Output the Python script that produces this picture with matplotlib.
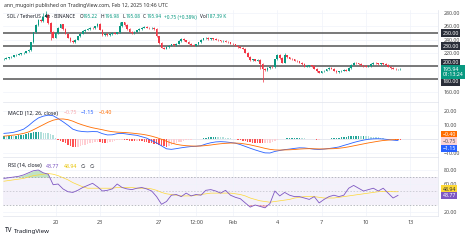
import numpy as np
import pandas as pd
import matplotlib
matplotlib.use("Agg")
import matplotlib.pyplot as plt
import matplotlib.dates as mdates
from matplotlib.text import Annotation

plt.rcParams['font.family'] = ['Noto Sans', 'DejaVu Sans']

# ---- data (SOL/USDT, 4h candles) ----
closes = [
    211, 212, 213, 214, 216, 217, 218, 219, 220, 222, 224, 236, 251,
    262, 270, 268, 275, 278, 265, 252, 243, 250, 258, 263,
    256, 249, 243, 238, 236, 240, 245, 249,
    253, 255, 256, 258, 257, 260, 264, 255, 247,
    249, 247, 248, 250, 249, 251, 260, 266, 262, 256, 252, 250,
    252, 254, 256, 258, 259, 258, 257, 258, 256, 245, 235, 228,
    226, 229, 231, 233, 232, 234, 238, 241, 239, 237,
    234, 232, 231, 233, 236, 240, 242, 243, 241, 242, 241, 240,
    239, 238, 238, 237, 236, 234, 233, 231, 229, 228, 226,
    220, 214, 209, 210, 208, 209, 203, 196, 194, 197, 199, 198,
    210, 217, 212, 205, 216, 213, 211, 210, 208, 207, 205, 203,
    199, 200, 201, 200, 196, 192, 190, 192, 193, 195, 197,
    196, 193, 191, 192, 193, 194, 193, 197, 202, 205, 204, 203,
    201, 200, 199, 200, 203, 205, 204, 203, 204, 203, 202,
    199, 197, 196, 195, 195.2, 195.94,
]
first_open = 210.5
# candles with long wicks: index -> (high, low)
long_wicks = {16: (280, None), 17: (284, None), 19: (None, 240), 47: (267, None),
              105: (None, 176), 104: (None, 195), 114: (219, None)}
bar_start = "2025-01-16 12:00"

# MACD histogram, one bar per candle
macd_hist = [
    2.0, 1.8, 1.9, 2.1, 2.0, 2.2, 2.5, 2.7, 3.0, 3.5,
    4.0, 4.5, 4.8, 5.0, 5.0, 4.9, 4.6, 4.3, 4.0, 3.3,
    2.5, 1.0, -0.5, -1.4, -2.2, -3.2, -4.2, -5.0, -5.6, -5.7,
    -5.4, -5.0, -4.6, -4.2, -3.8, -3.2, -2.7, -2.3, -2.0, -2.4,
    -2.6, -2.8, -2.7, -2.4, -2.0, -1.5, -1.0, -0.7, -0.6, -0.8,
    -0.9, -1.1, -1.2, -1.3, -1.2, -1.4, -1.6, -1.9, -2.2, -2.6,
    -3.0, -3.4, -3.8, -4.3, -4.7, -5.1, -5.4, -5.1, -4.6, -3.9,
    -3.1, -2.5, -1.9, -1.4, -1.0, -0.7, -0.4, -0.2, -0.1, 0.1,
    0.3, 0.7, 1.0, 1.3, 1.5, 1.6, 1.6, 1.5, 1.4, 1.2,
    0.9, 0.6, 0.4, 0.1, -0.2, -0.5, -0.9, -1.3, -1.7, -2.1,
    -2.4, -2.6, -2.8, -3.0, -3.1, -3.2, -3.2, -3.0, -2.6, -1.8,
    -1.1, -0.6, -0.3, 0.0, 0.2, 0.4, 0.5, 0.7, 0.8, 0.9,
    0.9, 0.8, 0.6, 0.3, 0.1, -0.1, -0.3, -0.4, -0.4, -0.3,
    -0.2, 0.0, 0.2, 0.4, 0.6, 0.8, 0.9, 1.1, 1.4, 1.6,
    1.8, 1.9, 2.0, 2.1, 2.1, 2.0, 2.0, 1.9, 1.8, 1.6,
    1.5, 1.3, 1.1, 0.8, 0.6, 0.3, 0.1, -0.1, -0.3, -0.5,
    -0.6, -0.75,
]

# MACD / signal / RSI lines, one point per 8h
macd_line = [
    4.0, 4.3, 4.8, 5.8, 7.0, 9.5, 12.5, 15.0, 16.3, 17.0, 16.6, 14.6, 12.3, 9.8,
    7.0, 5.8, 5.3, 5.1, 5.3, 5.2, 3.8, 2.9, 3.0, 3.8, 4.0, 3.5, 3.0, 2.6, 1.6,
    0.6, -1.2, -2.8, -4.9, -7.0, -7.4, -6.9, -6.3, -5.8, -5.4, -5.2, -4.8, -3.6,
    -2.7, -2.1, -1.9, -2.1, -2.5, -3.0, -4.0, -5.3, -6.6, -7.8, -8.9, -9.9,
    -10.0, -8.9, -8.2, -7.6, -7.2, -6.7, -6.3, -6.4, -6.8, -7.3, -7.5, -7.2,
    -6.8, -6.3, -5.7, -4.6, -3.6, -2.5, -1.6, -0.8, -0.2, 0.1, 0.2, 0.0, -0.4,
    -0.8, -1.15,
]
signal_line = [
    2.0, 2.4, 2.8, 3.3, 4.0, 5.0, 6.6, 8.4, 10.2, 12.0, 13.4, 14.2, 14.3, 13.8,
    12.7, 11.2, 10.0, 8.9, 8.0, 7.3, 6.6, 5.8, 5.2, 4.9, 4.7, 4.5, 4.2, 3.8, 3.4,
    2.8, 2.0, 1.0, -0.2, -1.6, -2.9, -3.8, -4.4, -4.8, -5.0, -5.1, -5.0, -4.7,
    -4.3, -3.8, -3.4, -3.1, -2.9, -2.9, -3.1, -3.6, -4.2, -5.0, -5.8, -6.7,
    -7.4, -7.8, -7.9, -7.8, -7.7, -7.5, -7.2, -7.0, -6.9, -7.0, -7.1, -7.1,
    -7.0, -6.9, -6.6, -6.2, -5.6, -4.9, -4.2, -3.5, -2.8, -2.2, -1.6, -1.1,
    -0.8, -0.5, -0.4,
]
rsi = [
    68, 69, 70, 71, 73, 76, 79, 80, 76, 74, 59, 60, 53, 49, 48, 51, 55, 58, 61,
    56, 50, 51, 53, 60, 55, 53, 52, 54, 55, 53, 50, 42, 31, 35, 44, 45, 42, 47,
    43, 45, 44, 51, 52, 50, 47, 51, 44, 41, 39, 33, 27, 30, 28, 26, 32, 50, 43,
    48, 44, 42, 42, 40, 38, 42, 33, 38, 42, 44, 42, 44, 54, 58, 54, 50, 52, 54,
    50, 54, 47, 40, 43.77,
]
rsi_ma = [
    64, 65, 66, 67, 68, 70, 72, 73, 74, 75, 74, 72, 69, 66, 62, 59, 56, 54, 54,
    54, 54, 54, 54, 55, 55, 55, 55, 54, 54, 54, 53, 51, 48, 46, 45, 44, 43, 43,
    43, 44, 45, 46, 47, 47, 47, 47, 47, 46, 45, 43, 40, 38, 36, 35, 34, 35, 36,
    37, 38, 40, 41, 42, 42, 42, 41, 40, 40, 40, 41, 42, 43, 44, 45, 46, 47, 48,
    49, 49.5, 49.5, 49, 48.94,
]
ind_start = "2025-01-16 12:00"

support_levels = [250, 230, 200, 180]
price_ticks = [280, 260, 240, 220, 200, 180, 160]
price_tick_labels = ["280.00", "260.00", "240.00", "220.00", "", "", "160.00"]
macd_ticks = [20, 10, 0, -10]
macd_tick_labels = ["20.00", "10.00", "", "\u221210.00"]
rsi_ticks = [80, 60, 40, 20]
rsi_tick_labels = ["80.00", "60.00", "", "20.00"]
date_ticks = ["2025-01-20 00:00", "2025-01-23 00:00", "2025-01-27 00:00", "2025-01-29 12:00",
              "2025-02-01 00:00", "2025-02-04 00:00", "2025-02-07 00:00", "2025-02-10 00:00",
              "2025-02-13 00:00"]
date_labels = ["20", "23", "27", "12:00", "Feb", "4", "7", "10", "13"]

UP, DOWN = "#089981", "#f23645"
TXT = "#131722"
AX_TXT = "#4a4a4a"
GRID = "#f0f3fa"

t_bar = mdates.date2num(pd.date_range(bar_start, periods=len(closes), freq="4h"))
t_ind = mdates.date2num(pd.date_range(ind_start, periods=len(rsi), freq="8h"))

W, H = 474, 240
fig = plt.figure(figsize=(W / 100, H / 100), dpi=100)
fig.patch.set_facecolor("white")


def px_axes(x0, y0, x1, y1):
    return fig.add_axes([x0 / W, 1 - y1 / H, (x1 - x0) / W, (y1 - y0) / H])


ax_p = px_axes(3, 10, 438, 102)
ax_m = px_axes(3, 102, 438, 157)
ax_r = px_axes(3, 157, 438, 216)

xlim = (t_bar[0] - 0.06, mdates.date2num(pd.Timestamp("2025-02-14 21:00")))
tick_nums = mdates.date2num(pd.to_datetime(date_ticks, format="%Y-%m-%d %H:%M"))

for ax in (ax_p, ax_m, ax_r):
    ax.set_xlim(*xlim)
    ax.set_facecolor("white")
    ax.set_xticks(tick_nums)
    ax.grid(True, color=GRID, linewidth=0.5)
    ax.set_axisbelow(True)
    ax.yaxis.tick_right()
    ax.tick_params(axis="y", length=0, labelsize=3.8, labelcolor=AX_TXT, pad=4)
    ax.tick_params(axis="x", length=0, labelbottom=False)
    for s in ("left", "bottom"):
        ax.spines[s].set_visible(False)
    for s in ("top", "right"):
        ax.spines[s].set_color("#e0e3eb")
        ax.spines[s].set_linewidth(0.5)
ax_p.spines["top"].set_visible(False)

# ---- candles ----
c = np.array(closes, dtype=float)
o = np.r_[first_open, c[:-1]]
hi = np.maximum(o, c) + 1.0
lo = np.minimum(o, c) - 1.0
for k, (h, l) in long_wicks.items():
    if h is not None:
        hi[k] = h
    if l is not None:
        lo[k] = l
col = np.where(c >= o, UP, DOWN)
bw = 0.7 / 6
ax_p.vlines(t_bar, lo, hi, colors=col, linewidth=0.5, zorder=3)
ax_p.bar(t_bar, np.maximum(np.abs(c - o), 0.6), bottom=np.minimum(o, c), width=bw,
         color=col, linewidth=0, zorder=4)
for lvl in support_levels:
    ax_p.axhline(lvl, color="#555555", linewidth=1.1, zorder=2)
ax_p.set_ylim(145.45, 284.85)
ax_p.set_yticks(price_ticks, labels=price_tick_labels)


def tag(ax, value, text, fc, tc="white", dy=0.0):
    ax.annotate(text, xy=(1, value), xycoords=("axes fraction", "data"),
                xytext=(3.3, dy), textcoords="offset points", ha="left", va="center",
                fontsize=3.8, color=tc, annotation_clip=False, zorder=10,
                bbox=dict(boxstyle="square,pad=0.25", fc=fc, ec="none"))


tag(ax_p, 250, "250.00", "#2a2e39")
tag(ax_p, 230, "230.00", "#2a2e39")
tag(ax_p, 200, "200.00", "#2a2e39", dy=2.4)
tag(ax_p, 180, "180.00", "#2a2e39", dy=-2.0)
tag(ax_p, closes[-1], "%.2f\n01:13:24" % closes[-1], UP, dy=-2.4)

# ---- MACD ----
h = np.array(macd_hist)
prev = np.r_[h[0], h[:-1]]
hcol = np.where(h >= 0, np.where(h >= prev, "#26a69a", "#b2dfdb"),
                np.where(h < prev, "#ff5252", "#ffcdd2"))
ax_m.bar(t_bar, h, width=0.6 / 6, color=hcol, linewidth=0, zorder=2)
ax_m.axhline(0, color="#e0e3eb", linewidth=0.5, zorder=1)
ax_m.plot(t_ind, macd_line, color="#2962ff", linewidth=0.6, zorder=3)
ax_m.plot(t_ind, signal_line, color="#ff6d00", linewidth=0.6, zorder=3)
ax_m.set_ylim(-12.86, 26.4)
ax_m.set_yticks(macd_ticks, labels=macd_tick_labels)
tag(ax_m, signal_line[-1], "\u22120.40", "#ff6d00", dy=3.7)
tag(ax_m, macd_hist[-1], "\u22120.75", "#fbd3d6", tc="#555555", dy=-0.7)
tag(ax_m, macd_line[-1], "\u22121.15", "#2962ff", dy=-5.7)

# ---- RSI ----
r = np.array(rsi, dtype=float)
ax_r.axhspan(30, 70, color="#7e57c2", alpha=0.08, linewidth=0, zorder=0)
for lvl, a in ((70, 1.0), (50, 0.6), (30, 1.0)):
    ax_r.axhline(lvl, color="#9598a1", alpha=a, linewidth=0.45, dashes=(2.5, 2.5), zorder=1)
ax_r.fill_between(t_ind, r, 70, where=r > 70, interpolate=True, color="#4caf50",
                  alpha=0.35, linewidth=0, zorder=1)
ax_r.fill_between(t_ind, r, 30, where=r < 30, interpolate=True, color="#f23645",
                  alpha=0.3, linewidth=0, zorder=1)
ax_r.plot(t_ind, rsi_ma, color="#fdd835", linewidth=0.5, zorder=2)
ax_r.plot(t_ind, r, color="#7e57c2", linewidth=0.6, zorder=3)
ax_r.set_ylim(14.3, 98.6)
ax_r.set_yticks(rsi_ticks, labels=rsi_tick_labels)
tag(ax_r, rsi_ma[-1], "48.94", "#fdd835", tc="#333333", dy=1.9)
tag(ax_r, rsi[-1], "43.77", "#7e57c2")

ax_r.tick_params(axis="x", labelbottom=True, labelsize=3.9, labelcolor=AX_TXT, pad=3)
ax_r.set_xticklabels(date_labels)
ax_r.get_xticklabels()[4].set_fontweight("bold")
ax_r.spines["bottom"].set_visible(True)
ax_r.spines["bottom"].set_color("#e0e3eb")
ax_r.spines["bottom"].set_linewidth(0.5)


# ---- legends / header ----
def text_row(x, y, parts, size=3.8):
    s0, c0, _ = parts[0]
    t = fig.text(x / W, 1 - y / H, s0, color=c0, fontsize=size, va="center", ha="left")
    for s, cc, gap in parts[1:]:
        t = fig.add_artist(Annotation(s, xy=(1, 0), xycoords=t, xytext=(gap, 0),
                                      textcoords="offset points", ha="left", va="bottom",
                                      color=cc, fontsize=size))


fig.text(4 / W, 1 - 6 / H, "ann_mugoiri published on TradingView.com, Feb 12, 2025 10:46 UTC",
         fontsize=3.7, color="#333333", va="center")

text_row(7, 17, [("SOL / TetherUS \u00b7 4h \u00b7 BINANCE", TXT, 0),
                 ("O", TXT, 3), ("195.22", UP, 0), ("H", TXT, 2.2), ("196.98", UP, 0),
                 ("L", TXT, 2.2), ("195.08", UP, 0), ("C", TXT, 2.2), ("195.94", UP, 0),
                 ("+0.75 (+0.38%)", UP, 2.2), ("Vol", TXT, 2.5), ("187.39 K", UP, 0)],
         size=3.45)
text_row(8, 113, [("MACD (12, 26, close)", TXT, 0), ("\u22120.75", "#f7a8ae", 4),
                  ("\u22121.15", "#2962ff", 3), ("\u22120.40", "#ff6d00", 3)])
text_row(8, 166, [("RSI (14, close)", TXT, 0), ("43.77", "#7e57c2", 3),
                  ("48.94", "#e8c300", 3), ("\u2205", TXT, 3), ("\u2205", TXT, 3)])

fig.text(5 / W, 1 - 231 / H, "TV", fontsize=4.6, fontweight="bold", color=TXT, va="center")
fig.text(14 / W, 1 - 231 / H, "TradingView", fontsize=4.4, color=TXT, va="center")

fig.savefig("out.png", dpi=100)
